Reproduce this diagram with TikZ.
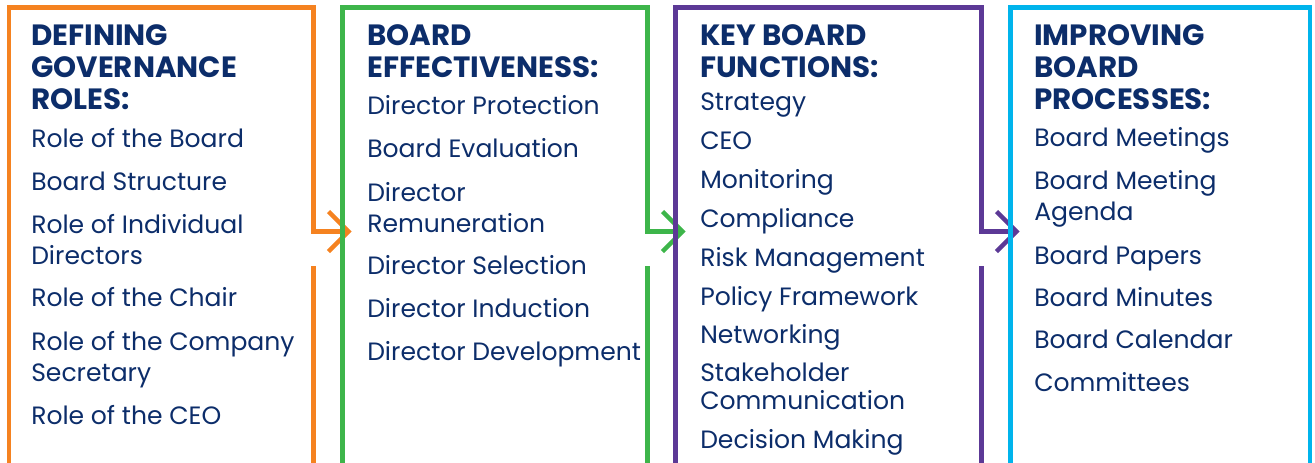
\documentclass[tikz,border=0pt]{standalone}
\usepackage{fontspec}
\setmainfont{Poppins}
\usetikzlibrary{calc}
\definecolor{textnavy}{RGB}{12,45,106}
\definecolor{roleorange}{RGB}{245,130,32}
\definecolor{effgreen}{RGB}{61,181,74}
\definecolor{keypurple}{RGB}{92,57,150}
\definecolor{impcyan}{RGB}{0,180,236}

\begin{document}
\begin{tikzpicture}[x=0.75pt,y=-0.75pt,
  head/.style={anchor=base west,inner sep=0pt,align=left,text=textnavy,
    font=\fontsize{22}{24}\selectfont\bfseries},
  item/.style={anchor=base west,inner sep=0pt,align=left,text=textnavy,
    font=\fontsize{18.8}{23.25}\selectfont},
  tight/.style={font=\fontsize{18.8}{20.5}\selectfont},
  frame/.style={line width=3.4pt,line join=miter}]
\useasboundingbox (0,0) rectangle (1315,462);

% frames and arrows
\foreach \i/\c/\l/\r in {1/roleorange/9/313.5, 2/effgreen/342.5/647.5, 3/keypurple/675.5/981.5} {
  \coordinate (elbow\i) at (\r,231.5);
  \coordinate (tip\i) at (\r+35,231.5);
  \draw[frame,\c] (\l,470) |- (\r,7.5) -- (elbow\i) -- (tip\i);
  \draw[frame,\c] ($(tip\i)+(-20,-20)$) -- (tip\i) -- ($(tip\i)+(-20,20)$);
  \draw[frame,\c] (\r,266) -- (\r,470);
}
\draw[frame,impcyan] (1010.5,470) |- (1310,7.5) -- (1310,470);

% defining governance roles (base = last line)
\node[head] (rolehead) at (31,109) {DEFINING\\GOVERNANCE\\ROLES:};
\node[item] (board) at (31,147) {Role of the Board};
\node[item] (structure) at (31,190) {Board Structure};
\node[item] (directors) at (31,264) {Role of Individual\\Directors};
\node[item] (chair) at (31,306) {Role of the Chair};
\node[item] (secretary) at (31,381) {Role of the Company\\Secretary};
\node[item] (ceo) at (31,424) {Role of the CEO};

% board effectiveness
\node[head] (effhead) at (367,77) {BOARD\\EFFECTIVENESS:};
\node[item] (protection) at (367,114) {Director Protection};
\node[item] (evaluation) at (367,157) {Board Evaluation};
\node[item] (remuneration) at (367,232) {Director\\Remuneration};
\node[item] (selection) at (367,274) {Director Selection};
\node[item] (induction) at (367,317) {Director Induction};
\node[item] (development) at (367,360) {Director Development};

% key board functions
\node[head] (keyhead) at (700,77) {KEY BOARD\\FUNCTIONS:};
\node[item] (strategy) at (700,110) {Strategy};
\node[item] (keyceo) at (700,149) {CEO};
\node[item] (monitoring) at (700,188) {Monitoring};
\node[item] (compliance) at (700,227) {Compliance};
\node[item] (risk) at (700,266) {Risk Management};
\node[item] (policy) at (700,305) {Policy Framework};
\node[item] (networking) at (700,343) {Networking};
\node[item,tight] (stakeholder) at (700,409) {Stakeholder\\Communication};
\node[item] (decision) at (700,448) {Decision Making};

% improving board processes
\node[head] (imphead) at (1034,109) {IMPROVING\\BOARD\\PROCESSES:};
\node[item] (meetings) at (1034,146) {Board Meetings};
\node[item] (agenda) at (1034,220) {Board Meeting\\Agenda};
\node[item] (papers) at (1034,264) {Board Papers};
\node[item] (minutes) at (1034,306) {Board Minutes};
\node[item] (calendar) at (1034,348) {Board Calendar};
\node[item] (committees) at (1034,391) {Committees};
\end{tikzpicture}
\end{document}
